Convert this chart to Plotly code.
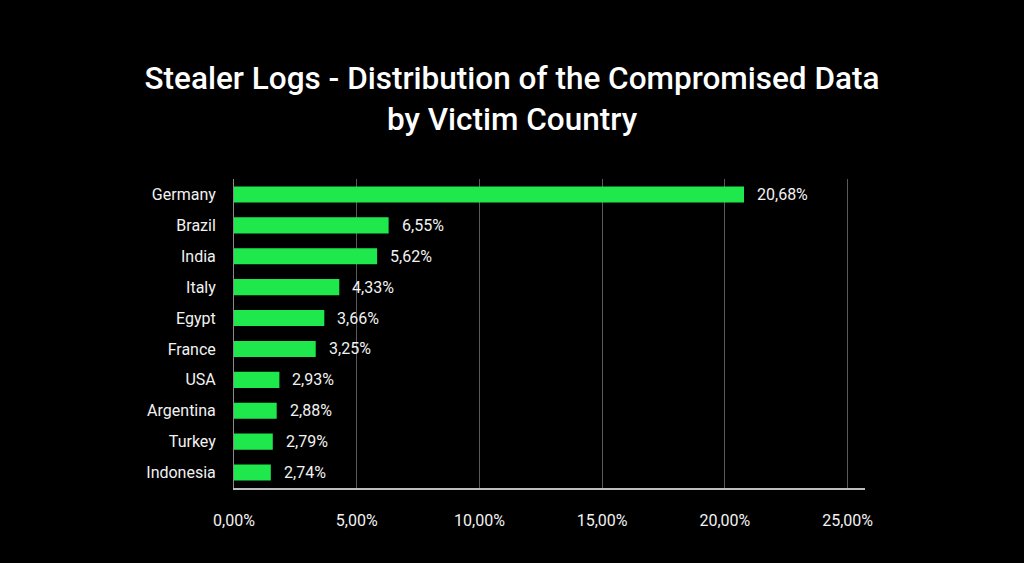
import plotly.graph_objects as go

countries = ["Germany", "Brazil", "India", "Italy", "Egypt", "France",
             "USA", "Argentina", "Turkey", "Indonesia"]
# bar lengths as drawn in the picture (percent)
bar_lengths = [20.78, 6.30, 5.83, 4.29, 3.68, 3.33, 1.85, 1.74, 1.58, 1.50]
# value labels as printed next to the bars
value_labels = ["20,68%", "6,55%", "5,62%", "4,33%", "3,66%", "3,25%",
                "2,93%", "2,88%", "2,79%", "2,74%"]
tick_vals = [0, 5, 10, 15, 20, 25]
tick_text = ["0,00%", "5,00%", "10,00%", "15,00%", "20,00%", "25,00%"]

GREEN = "#1fe84c"
TEXT = "#f2f2f2"
FONT = "Roboto"

fig = go.Figure()
fig.add_trace(go.Bar(
    y=countries, x=bar_lengths, orientation="h",
    marker=dict(color=GREEN, line=dict(width=0)),
    width=0.52, hoverinfo="skip",
))

for c, v, t in zip(countries, bar_lengths, value_labels):
    fig.add_annotation(x=v, y=c, text=t, showarrow=False, xanchor="left",
                       yanchor="middle", xshift=11,
                       font=dict(family=FONT, size=16, color=TEXT))

fig.update_layout(
    width=1024, height=563,
    paper_bgcolor="black", plot_bgcolor="black",
    margin=dict(l=234, r=159, t=179, b=75),
    showlegend=False,
    title=dict(
        text="Stealer Logs - Distribution of the Compromised Data<br>by Victim Country",
        x=0.5, xanchor="center", y=0.842, yanchor="middle",
        font=dict(family=FONT, size=31.5, color="white", weight=500),
    ),
    xaxis=dict(
        range=[0, 25.71], tickvals=tick_vals, ticktext=tick_text,
        showgrid=True, gridcolor="#5a5a5a", gridwidth=1,
        zeroline=False, showline=True, linecolor="#bdbdbd", linewidth=2,
        tickfont=dict(family=FONT, size=16, color=TEXT),
        ticks="", ticklabelstandoff=17, fixedrange=True,
    ),
    yaxis=dict(
        categoryorder="array", categoryarray=countries[::-1],
        range=[-0.5, 9.5], showgrid=False, zeroline=False,
        showline=True, linecolor="#8a8a8a", linewidth=1,
        tickfont=dict(family=FONT, size=16, color=TEXT),
        ticks="", ticklabelstandoff=14, fixedrange=True,
    ),
)

fig.write_html("out.html")
